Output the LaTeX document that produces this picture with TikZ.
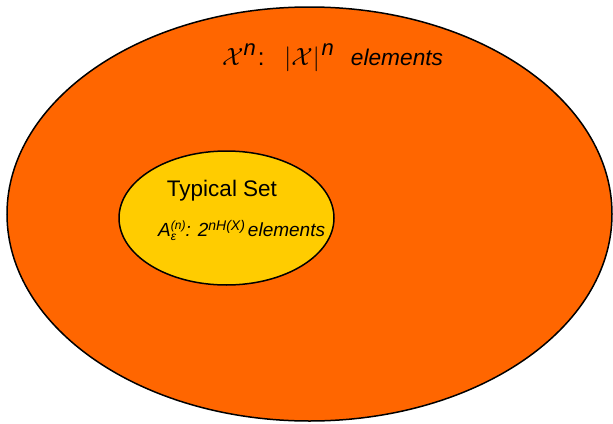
\documentclass[tikz,border=0pt]{standalone}
\usepackage{amsmath}
\usepackage{fontspec}
\setmainfont{Liberation Sans}
\usetikzlibrary{shapes.geometric}
\definecolor{outerorange}{HTML}{FF6600}
\definecolor{inneryellow}{HTML}{FFCC00}
\newcommand{\fsz}[1]{\fontsize{#1}{#1}\selectfont}
\tikzset{
  setshape/.style={ellipse, draw=black, line width=1.5pt, inner sep=0pt},
  label/.style={inner sep=0pt, text=black}
}
\begin{document}
\begin{tikzpicture}[x=1pt,y=-1pt]
\useasboundingbox[fill=white] (0,0) rectangle (613,423);
\node[setshape, fill=outerorange, minimum width=605pt, minimum height=414pt] (universe) at (309.5,214) {};
\node[setshape, fill=inneryellow, minimum width=215pt, minimum height=134pt] (typical) at (226.5,218) {};
\node[label, anchor=base west] (utext) at (222,65)
  {{\fsz{33}$\mathcal{X}$}\raisebox{10pt}{\fsz{22}\textit{n}}\hspace{2pt}{\fsz{24}:}\hspace{20pt}{\fsz{33}$|\mathcal{X}|$}\hspace{2pt}\raisebox{10pt}{\fsz{22}\textit{n}}\hspace{17pt}{\fsz{22.7}\textit{elements}}};
\node[label, anchor=base, font=\fsz{22.5}] (tstitle) at (222,196) {Typical Set};
\node[label, anchor=base west] (tscount) at (158,236)
  {\fsz{19}\textit{A}\rlap{\raisebox{-4.5pt}{\fsz{12}\textit{ε}}}\raisebox{7pt}{\fsz{12}\textit{(n)}}\textit{: 2}\raisebox{6pt}{\fsz{14}\textit{nH(X)}}\hspace{3pt}\textit{elements}};
\end{tikzpicture}
\end{document}
